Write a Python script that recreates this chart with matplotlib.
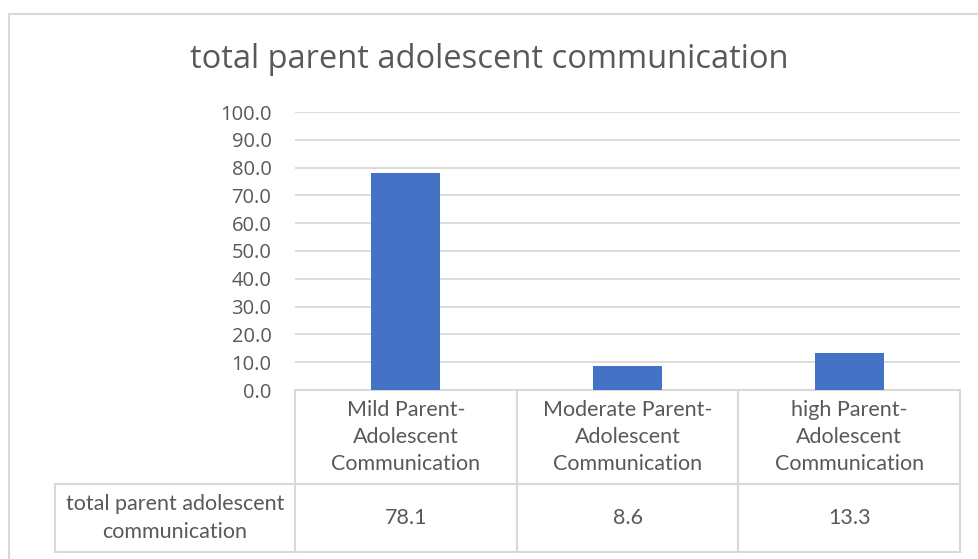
import matplotlib
matplotlib.use("Agg")
import matplotlib.pyplot as plt
from matplotlib.patches import Rectangle
from matplotlib.lines import Line2D
from matplotlib.ticker import MultipleLocator, FormatStrFormatter

title = "total parent adolescent communication"
series_name = "total parent adolescent\ncommunication"
categories = ["Mild Parent-\nAdolescent\nCommunication",
              "Moderate Parent-\nAdolescent\nCommunication",
              "high Parent-\nAdolescent\nCommunication"]
values = [78.1, 8.6, 13.3]
y_ticks = [0, 10, 20, 30, 40, 50, 60, 70, 80, 90, 100]

W, H = 979, 559
grey = "#595959"
line_grey = "#D9D9D9"
bar_blue = "#4472C4"

fig = plt.figure(figsize=(W / 100, H / 100), dpi=100)
fig.patch.set_facecolor("white")

# outer chart border (left and top visible only)
fig.add_artist(Rectangle((9 / W, -0.1), 1.2, (H - 14) / H + 0.1,
                         transform=fig.transFigure, fill=False,
                         edgecolor=line_grey, lw=1.5))

# plot area
x0, x1, y_top, y_zero = 295, 960, 112, 390
ax = fig.add_axes([x0 / W, (H - y_zero) / H, (x1 - x0) / W, (y_zero - y_top) / H])

xs = list(range(len(values)))
ax.bar(xs, values, width=0.31, color=bar_blue, zorder=3)
ax.set_xlim(-0.5, len(values) - 0.5)
ax.set_ylim(y_ticks[0], y_ticks[-1])
ax.yaxis.set_major_locator(MultipleLocator(10))
ax.yaxis.set_major_formatter(FormatStrFormatter("%.1f"))
ax.grid(axis="y", color=line_grey, lw=1.3, zorder=0)
for s in ax.spines.values():
    s.set_visible(False)
ax.set_xticks([])
ax.tick_params(axis="y", length=0, pad=17, labelsize=14.5, labelcolor=grey)
for lab in ax.get_yticklabels():
    lab.set_fontfamily("Open Sans")

fig.text(0.5, (H - 59) / H, title, ha="center", va="center",
         fontsize=23.5, color=grey, family="Open Sans")

# data table below the axis
trans = ax.get_xaxis_transform()
ax_h = y_zero - y_top
px_unit = (x1 - x0) / len(values)
y_head = -(484 - y_zero) / ax_h
y_bot = -(552 - y_zero) / ax_h
x_left = -0.5 - (x0 - 55) / px_unit
x_right = len(values) - 0.5

def tline(xa, ya):
    ax.add_line(Line2D(xa, ya, transform=trans, color=line_grey, lw=1.5,
                       clip_on=False))

tline([-0.5, x_right], [0, 0])
tline([x_left, x_right], [y_head, y_head])
tline([x_left, x_right], [y_bot, y_bot])
tline([x_left, x_left], [y_head, y_bot])
for b in range(len(values) + 1):
    tline([b - 0.5, b - 0.5], [0, y_bot])

fs = 15.5
for x, cat, v in zip(xs, categories, values):
    ax.text(x, y_head / 2, cat, transform=trans, ha="center", va="center",
            fontsize=fs, color=grey, family="Lato", linespacing=1.45)
    ax.text(x, (y_head + y_bot) / 2, f"{v:.1f}", transform=trans,
            ha="center", va="center", fontsize=fs, color=grey, family="Lato")
ax.text((x_left - 0.5) / 2, (y_head + y_bot) / 2, series_name, transform=trans,
        ha="center", va="center", fontsize=fs, color=grey, family="Lato",
        linespacing=1.45)

fig.savefig("out.png", dpi=100, facecolor="white")
